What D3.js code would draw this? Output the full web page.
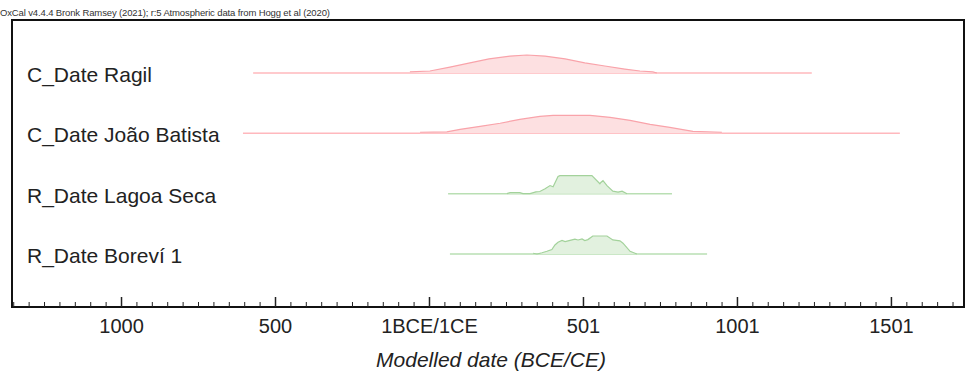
<!DOCTYPE html>
<html>
<head>
<meta charset="utf-8">
<script src="https://cdn.jsdelivr.net/npm/d3@7"></script>
<style>
  body { margin: 0; background: #fff; }
  text { font-family: "Liberation Sans", Arial, sans-serif; }
</style>
</head>
<body>
<script>
// dates are years, BCE negative (1BCE/1CE = 0)
var rowNames = ["C_Date Ragil", "C_Date João Batista", "R_Date Lagoa Seca", "R_Date Boreví 1"]
var rowKinds = ["C", "C", "R", "R"]
var rangeStart = [-571, -604, 62, 68]
var rangeEnd = [1243, 1529, 789, 903]

var ragilYears = [-62, 3, 68, 133, 195, 263, 318, 377, 442, 506, 571, 636, 685, 727, 740]
var ragilProb  = [0.06, 0.11, 0.33, 0.56, 0.78, 0.94, 1, 0.94, 0.78, 0.56, 0.39, 0.22, 0.11, 0.06, 0]
var joaoYears = [-29, 58, 101, 166, 231, 295, 360, 403, 523, 588, 653, 718, 782, 857, 951]
var joaoProb  = [0.06, 0.08, 0.22, 0.39, 0.56, 0.78, 0.94, 1, 1, 0.89, 0.72, 0.5, 0.33, 0.11, 0.06]
var lagoaYears = [253, 263, 295, 305, 328, 347, 360, 377, 393, 403, 419, 425, 529, 555, 558, 565, 578, 597, 614, 627, 643]
var lagoaProb  = [0, 0.06, 0.06, 0, 0, 0.1, 0.12, 0.27, 0.45, 0.38, 0.95, 1, 1, 0.55, 0.62, 0.72, 0.45, 0.14, 0.09, 0.14, 0]
var boreviYears = [338, 351, 367, 383, 399, 409, 419, 432, 442, 458, 474, 484, 497, 506, 516, 532, 578, 597, 620, 630, 653, 675]
var boreviProb  = [0.04, 0, 0.07, 0.15, 0.25, 0.5, 0.65, 0.75, 0.69, 0.76, 0.82, 0.78, 0.84, 0.75, 0.8, 1, 1, 0.78, 0.73, 0.6, 0.15, 0]

var tickValues = [-1000, -500, 0, 500, 1000, 1500]
var tickLabels = ["1000", "500", "1BCE/1CE", "501", "1001", "1501"]

var headerText = "OxCal v4.4.4 Bronk Ramsey (2021); r:5 Atmospheric data from Hogg et al (2020)"
var axisTitle = "Modelled date (BCE/CE)"

var dists = [
  {years: ragilYears, prob: ragilProb},
  {years: joaoYears, prob: joaoProb},
  {years: lagoaYears, prob: lagoaProb},
  {years: boreviYears, prob: boreviProb}
]

var width = 968, height = 378
var box = {left: 12, top: 20, right: 964, bottom: 307}

var colors = {
  C: {line: "#ffb8bd", fill: "#fde0e1", edge: "#f9a3aa"},
  R: {line: "#b9dfb3", fill: "#e2f1df", edge: "#a3d29b"}
}

var x = d3.scaleLinear().domain([-1354, 1734]).range([box.left, box.right - 1])
var rowY = d3.scalePoint().domain(rowNames).range([73, 254])
var h = d3.scaleLinear().domain([0, 1]).range([0, 18])

var svg = d3.select("body").append("svg")
    .attr("width", width)
    .attr("height", height)

svg.append("text")
    .attr("x", 0)
    .attr("y", 16)
    .style("font-size", "9.5px")
    .style("fill", "#333")
    .attr("textLength", 330)
    .text(headerText)

rowNames.forEach(function(name, i) {
  var base = rowY(name)
  var c = colors[rowKinds[i]]
  var pts = dists[i].years.map(function(y, j) { return {year: y, p: dists[i].prob[j]} })

  svg.append("line")
      .attr("x1", x(rangeStart[i]))
      .attr("x2", x(rangeEnd[i]))
      .attr("y1", base)
      .attr("y2", base)
      .style("stroke", c.line)
      .style("stroke-width", 1.5)

  var area = d3.area()
      .x(function(d) { return x(d.year) })
      .y0(base)
      .y1(function(d) { return base - h(d.p) })

  var topLine = d3.line()
      .x(function(d) { return x(d.year) })
      .y(function(d) { return base - h(d.p) })

  svg.append("path")
      .attr("d", area(pts))
      .style("fill", c.fill)
      .style("stroke", "none")

  svg.append("path")
      .attr("d", topLine(pts))
      .style("fill", "none")
      .style("stroke", c.edge)
      .style("stroke-width", 1.2)

  svg.append("text")
      .attr("x", 27)
      .attr("y", base + 9)
      .style("font-size", "21px")
      .style("fill", "#222")
      .text(name)
})

// frame
svg.append("rect")
    .attr("x", box.left)
    .attr("y", box.top)
    .attr("width", box.right - box.left)
    .attr("height", box.bottom - box.top)
    .style("fill", "none")
    .style("stroke", "#111")
    .style("stroke-width", 2)

// minor ticks every 50 years
var minor = d3.range(-1350, 1734, 50).filter(function(v) { return tickValues.indexOf(v) < 0 })
svg.append("g")
    .attr("transform", "translate(0," + box.bottom + ")")
    .call(d3.axisTop(x).tickValues(minor).tickSize(5).tickFormat(""))
    .call(function(g) {
      g.select(".domain").remove()
      g.selectAll("line").style("stroke", "#222").style("stroke-width", 1)
    })

svg.append("g")
    .attr("transform", "translate(0," + box.bottom + ")")
    .call(d3.axisTop(x).tickValues(tickValues).tickSize(10).tickFormat(""))
    .call(function(g) {
      g.select(".domain").remove()
      g.selectAll("line").style("stroke", "#222").style("stroke-width", 1.5)
    })

svg.append("g")
    .attr("transform", "translate(0," + box.bottom + ")")
    .call(d3.axisBottom(x).tickValues(tickValues).tickSize(0).tickPadding(12)
      .tickFormat(function(d, i) { return tickLabels[i] }))
    .call(function(g) {
      g.select(".domain").remove()
      g.selectAll("text")
        .style("font-size", "20px")
        .style("font-family", "Liberation Sans, Arial, sans-serif")
        .style("fill", "#222")
    })

svg.append("text")
    .attr("x", 491)
    .attr("y", 367)
    .attr("text-anchor", "middle")
    .style("font-size", "21px")
    .style("font-style", "italic")
    .style("fill", "#222")
    .text(axisTitle)
</script>
</body>
</html>
